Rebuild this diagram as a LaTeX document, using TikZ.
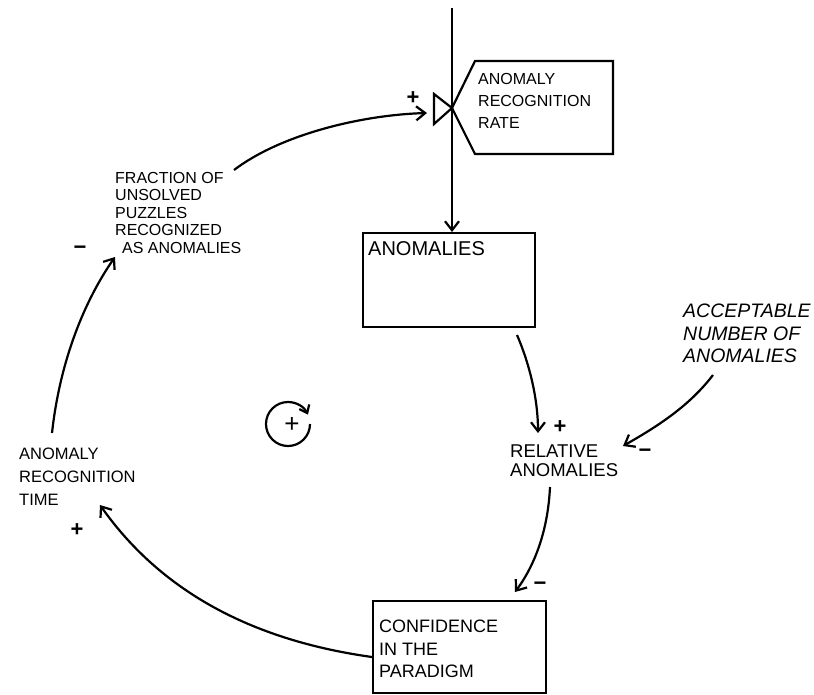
\documentclass[tikz,border=0pt]{standalone}
\usepackage{fontspec}
\setmainfont{Liberation Sans}
\usetikzlibrary{arrows.meta}
\begin{document}
\begin{tikzpicture}[x=1pt,y=-1pt,
  hand/.style={inner sep=0pt, align=left, anchor=north west},
  boxline/.style={line width=2.2pt},
  conn/.style={line width=2.2pt, -{Straight Barb[length=9pt,width=14pt,line width=2.2pt]}},
  sign/.style={inner sep=0pt, font=\fontsize{22}{22}\selectfont\bfseries}]
\useasboundingbox (0,0) rectangle (814,694);

% rate (valve and converter box)
\coordinate (src) at (452,8);
\coordinate (valvetip) at (452,108);
\coordinate (valvetop) at (434,94);
\coordinate (valvebot) at (434,124);
\draw[boxline] (valvetip) -- (475,61) -- (613,61) -- (613,154) -- (475,154) -- cycle;
\draw[boxline] (valvetop) -- (valvetip) -- (valvebot) -- cycle;
\node[hand, font=\fontsize{16}{22}\selectfont] (ratetext) at (478,73) {ANOMALY\\RECOGNITION\\RATE};

% stock
\node[draw, boxline, minimum width=172pt, minimum height=94pt, anchor=north west, inner sep=0pt] (anom) at (362,232) {};
\node[hand, font=\fontsize{20}{24}\selectfont] (anomtext) at (368,241) {ANOMALIES};
\draw[conn] (src) -- (src |- anom.north);

% confidence
\node[draw, boxline, minimum width=173pt, minimum height=92pt, anchor=north west, inner sep=0pt] (conf) at (372,600) {};
\node[hand, font=\fontsize{18}{22.5}\selectfont] (conftext) at (379,620) {CONFIDENCE\\IN THE\\PARADIGM};

% auxiliaries
\node[hand, font=\fontsize{16}{17.5}\selectfont] (frac) at (115,172) {FRACTION OF\\UNSOLVED\\PUZZLES\\RECOGNIZED\\\hspace*{7pt}AS ANOMALIES};
\node[hand, font=\fontsize{16.5}{23}\selectfont] (time) at (19,448) {ANOMALY\\RECOGNITION\\TIME};
\node[hand, font=\fontsize{18.5}{19}\selectfont] (rel) at (510,445) {RELATIVE\\ANOMALIES};
\node[hand, font=\fontsize{19.5}{22.5}\selectfont\itshape] (acc) at (683,304) {ACCEPTABLE\\NUMBER OF\\ANOMALIES};

% connector end points
\coordinate (fracout) at (234,170);
\coordinate (valvein) at (427,113);
\coordinate (anomout) at (517,335);
\coordinate (relin1) at (538,433);
\coordinate (accout) at (713,375);
\coordinate (relin2) at (623,446);
\coordinate (relout) at (550,487);
\coordinate (confin) at (515,592);
\coordinate (confout) at (372,657);
\coordinate (timein) at (100,505);
\coordinate (timeout) at (52,433);
\coordinate (fracin) at (115,257);

\draw[conn] (fracout) .. controls (280,135) and (360,115) .. (valvein);
\draw[conn] (anomout) .. controls (530,365) and (538,400) .. (relin1);
\draw[conn] (accout) .. controls (690,405) and (660,425) .. (relin2);
\draw[conn] (relout) .. controls (548,530) and (535,565) .. (confin);
\draw[conn] (confout) .. controls (250,640) and (160,590) .. (timein);
\draw[conn] (timeout) .. controls (60,360) and (85,300) .. (fracin);

% polarity signs
\node[sign] (s1) at (413,98) {+};
\node[sign] (s2) at (560,427) {+};
\node[sign] (s3) at (645,453) {−};
\node[sign] (s4) at (540,586) {−};
\node[sign] (s5) at (77,530) {+};
\node[sign] (s6) at (80,250) {−};

% loop marker
\coordinate (loopc) at (288,424);
\node[inner sep=0pt, font=\fontsize{26}{26}\selectfont] (loop) at (292,425) {+};
\draw[line width=2.2pt, -{Straight Barb[length=7pt,width=11pt,line width=2.2pt]}] ([shift={(0:22pt)}]loopc) arc[start angle=0, end angle=-335, radius=22pt];
\end{tikzpicture}
\end{document}
